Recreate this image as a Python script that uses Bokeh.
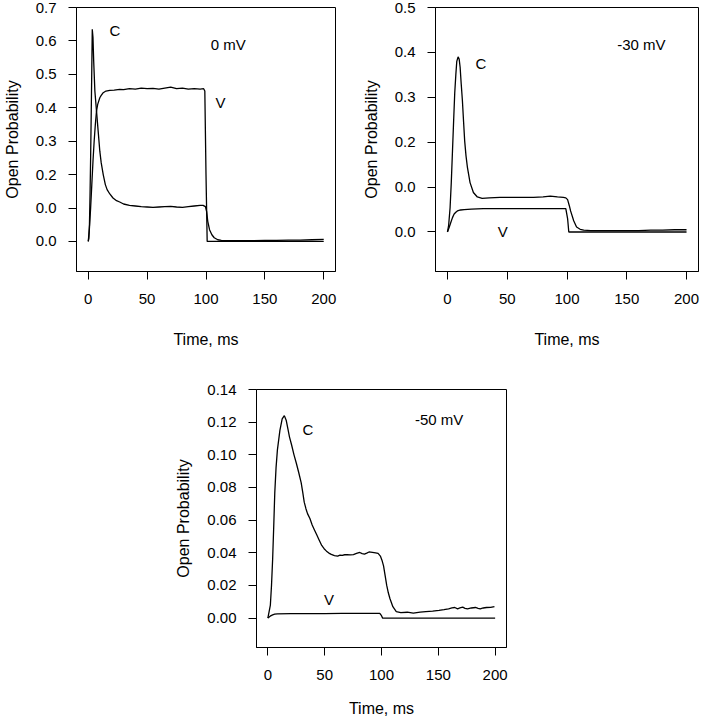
from bokeh.plotting import figure
from bokeh.layouts import column, row
from bokeh.models import Spacer, Range1d, FixedTicker, Label
from bokeh.embed import file_html
from bokeh.resources import INLINE

# ---------------- data ----------------
x_ticks = [0, 50, 100, 150, 200]

# Panel A: 0 mV
t_c0 = [0, 0.5, 1, 1.5, 2, 2.5, 3, 3.4, 4, 4.6, 5.6, 7, 8.4, 9.8, 11, 12.7, 14.5, 16, 18.3, 21, 24, 26.7, 30, 35,
        40, 45, 50, 55, 60, 65, 70, 75, 80, 85, 90, 95, 97.5, 99.5, 100.5, 101.5, 103, 105, 107, 110, 113, 120,
        130, 140, 150, 160, 170, 180, 190, 200]
c0 = [0.0, 0.01, 0.05, 0.14, 0.25, 0.38, 0.52, 0.635, 0.61, 0.54, 0.45, 0.39, 0.33, 0.27, 0.235, 0.2, 0.17, 0.155,
      0.142, 0.13, 0.122, 0.118, 0.112, 0.108, 0.106, 0.104, 0.103, 0.102, 0.103, 0.104, 0.105, 0.103, 0.102,
      0.104, 0.106, 0.108, 0.108, 0.104, 0.09, 0.06, 0.035, 0.02, 0.011, 0.005, 0.003, 0.002, 0.002, 0.002,
      0.003, 0.003, 0.004, 0.004, 0.005, 0.006]
t_v0 = [0, 1, 2, 3, 4, 5, 6, 7, 8, 9.8, 11, 12.7, 15, 18.3, 22, 26.7, 30, 35, 40, 45, 50, 55, 60, 65, 70, 75,
        80, 85, 90, 95, 98, 99, 100, 101, 110, 130, 150, 170, 200]
v0 = [0.0, 0.04, 0.1, 0.17, 0.24, 0.3, 0.35, 0.39, 0.41, 0.43, 0.437, 0.445, 0.45, 0.452, 0.453, 0.455, 0.454,
      0.457, 0.456, 0.459, 0.457, 0.458, 0.456, 0.459, 0.462, 0.457, 0.459, 0.456, 0.457, 0.456, 0.457, 0.45,
      0.2, 0.0, 0.0, 0.0, 0.0, 0.0, 0.0]

# Panel B: -30 mV
t_c30 = [0, 1, 2.2, 3.2, 4.2, 5.2, 6.1, 7, 7.8, 8.9, 9.8, 10.6, 11.5, 12.5, 13.5, 14.4, 15.5, 16.7, 18.9, 21.7,
         25, 29, 35, 44, 55, 65, 72, 80, 86, 92, 97, 99, 100.5, 102, 103, 105.6, 108, 111, 114, 120, 130,
         140, 150, 160, 170, 180, 190, 200]
c30 = [0.0, 0.015, 0.054, 0.11, 0.18, 0.25, 0.31, 0.35, 0.38, 0.39, 0.385, 0.367, 0.33, 0.293, 0.245, 0.203,
       0.17, 0.144, 0.11, 0.088, 0.078, 0.075, 0.076, 0.077, 0.077, 0.077, 0.077, 0.078, 0.08, 0.078, 0.077,
       0.076, 0.072, 0.058, 0.047, 0.025, 0.011, 0.006, 0.004, 0.003, 0.003, 0.003, 0.003, 0.003, 0.004,
       0.004, 0.005, 0.005]
t_v30 = [0, 1.4, 2.8, 4.2, 5.6, 7, 8.3, 11, 14, 20, 30, 50, 70, 90, 99, 100.5, 101.5, 120, 150, 200]
v30 = [0.0, 0.01, 0.021, 0.032, 0.04, 0.044, 0.047, 0.049, 0.05, 0.051, 0.052, 0.052, 0.052, 0.052, 0.052,
       0.03, 0.0, 0.0, 0.0, 0.0]

# Panel C: -50 mV
t_c50 = [0, 2.2, 3.2, 4.2, 5.2, 6.1, 7.2, 8.4, 10.6, 12.6, 14.5, 16.2, 17.6, 19, 20.9, 23, 25, 27.2, 29.3, 30.7,
         32, 33.5, 34.9, 37, 39, 41, 43, 45, 47.4, 49.5, 51.6, 53.7, 55.8, 58.6, 61.4, 63.5, 65.5, 67.6, 69.7,
         72.5, 75.3, 78, 80.9, 83, 85, 87, 89, 92, 94.8, 97, 99, 100.4, 101.8, 103.2, 104.6, 106, 107.4, 110,
         113, 117, 122.7, 128, 134, 139, 145, 150.6, 155, 159, 162, 164.5, 167, 169, 171.5, 173.5, 175.7,
         179, 182.7, 185, 186.9, 189.5, 192.4, 196, 199.4]
c50 = [0.0, 0.008, 0.02, 0.036, 0.057, 0.077, 0.092, 0.103, 0.115, 0.122, 0.124, 0.121, 0.116, 0.111, 0.106,
       0.1, 0.095, 0.089, 0.083, 0.077, 0.071, 0.067, 0.064, 0.061, 0.057, 0.054, 0.051, 0.048, 0.0445,
       0.0425, 0.041, 0.0398, 0.039, 0.0383, 0.038, 0.0386, 0.0384, 0.0388, 0.0388, 0.0387, 0.0389, 0.0396,
       0.0402, 0.0395, 0.0392, 0.0398, 0.0405, 0.0402, 0.0399, 0.0396, 0.038, 0.0355, 0.032, 0.026, 0.02,
       0.0155, 0.012, 0.007, 0.004, 0.0034, 0.0036, 0.003, 0.0036, 0.004, 0.0043, 0.0047, 0.0052, 0.0057,
       0.0062, 0.0065, 0.0057, 0.0062, 0.0067, 0.006, 0.0057, 0.0062, 0.0065, 0.006, 0.0057, 0.0062,
       0.0065, 0.0066, 0.0071]
t_v50 = [0, 2, 4.2, 6, 8.4, 20, 35, 50, 65, 80, 95, 98.5, 100, 101, 120, 150, 200]
v50 = [0.0, 0.0012, 0.002, 0.0024, 0.0026, 0.0027, 0.0028, 0.0028, 0.0029, 0.0029, 0.0029, 0.0029, 0.0015,
       0.0, 0.0, 0.0, 0.0]

FONT = "Liberation Sans"


def make_fig(width, height, mbl, mbr, mbt, mbb, y_lo, y_hi, y_ticks, y_labels, xlab_standoff):
    p = figure(width=width, height=height, x_range=Range1d(-10, 210), y_range=Range1d(y_lo, y_hi),
               output_backend="svg", toolbar_location=None,
               min_border_left=mbl, min_border_right=mbr, min_border_top=mbt, min_border_bottom=mbb)
    p.xgrid.visible = False
    p.ygrid.visible = False
    p.outline_line_color = "black"
    p.outline_line_width = 1
    p.background_fill_color = "white"
    p.border_fill_color = "white"
    p.xaxis.ticker = FixedTicker(ticks=x_ticks)
    p.yaxis.ticker = FixedTicker(ticks=y_ticks)
    p.yaxis.major_label_overrides = {t: s for t, s in zip(y_ticks, y_labels)}
    p.xaxis.axis_label = "Time, ms"
    p.yaxis.axis_label = "Open Probability"
    for ax in (p.xaxis[0], p.yaxis[0]):
        ax.axis_line_color = "black"
        ax.major_tick_line_color = "black"
        ax.major_tick_in = 0
        ax.major_tick_out = 8
        ax.minor_tick_line_color = None
        ax.major_label_text_font = FONT
        ax.major_label_text_font_size = "15px"
        ax.major_label_text_color = "black"
        ax.axis_label_text_font = FONT
        ax.axis_label_text_font_size = "16px"
        ax.axis_label_text_font_style = "normal"
        ax.axis_label_text_color = "black"
    p.yaxis.major_label_standoff = 12
    p.yaxis.axis_label_standoff = 12
    p.xaxis.major_label_standoff = 14
    p.xaxis.axis_label_standoff = xlab_standoff
    return p


def add_text(p, x, y, txt):
    p.add_layout(Label(x=x, y=y, text=txt, text_font=FONT, text_font_size="15px", text_color="black",
                       text_align="left", text_baseline="middle"))


# Panel A
yt1 = [0.0, 0.1, 0.2, 0.3, 0.4, 0.5, 0.6, 0.7]
yl1 = ["0.0", "0.0", "0.2", "0.3", "0.4", "0.5", "0.6", "0.7"]
p1 = make_fig(350, 358, 73, 15, 7, 87, -0.09, 0.7, yt1, yl1, 24)
p1.line(t_c0, c0, line_color="black", line_width=1.3)
p1.line(t_v0, v0, line_color="black", line_width=1.3)
add_text(p1, 18, 0.63, "C")
add_text(p1, 108, 0.415, "V")
add_text(p1, 104, 0.59, "0 mV")

# Panel B
yt2 = [0.0, 0.1, 0.2, 0.3, 0.4, 0.5]
yl2 = ["0.0", "0.0", "0.2", "0.3", "0.4", "0.5"]
p2 = make_fig(353, 358, 85, 5, 7, 87, -0.088, 0.5, yt2, yl2, 24)
p2.line(t_c30, c30, line_color="black", line_width=1.3)
p2.line(t_v30, v30, line_color="black", line_width=1.3)
add_text(p2, 23.5, 0.375, "C")
add_text(p2, 42, 0.002, "V")
add_text(p2, 142, 0.418, "-30 mV")

# Panel C
yt3 = [0.0, 0.02, 0.04, 0.06, 0.08, 0.10, 0.12, 0.14]
yl3 = ["0.00", "0.02", "0.04", "0.06", "0.08", "0.10", "0.12", "0.14"]
p3 = make_fig(349, 361, 70, 15, 31, 69, -0.018, 0.14, yt3, yl3, 17)
p3.line(t_c50, c50, line_color="black", line_width=1.3)
p3.line(t_v50, v50, line_color="black", line_width=1.3)
add_text(p3, 30.5, 0.1153, "C")
add_text(p3, 49.5, 0.0111, "V")
add_text(p3, 129.5, 0.1214, "-50 mV")

layout = column(row(p1, p2), row(Spacer(width=172, height=361), p3))

open("out.html", "w").write(file_html(layout, INLINE))
